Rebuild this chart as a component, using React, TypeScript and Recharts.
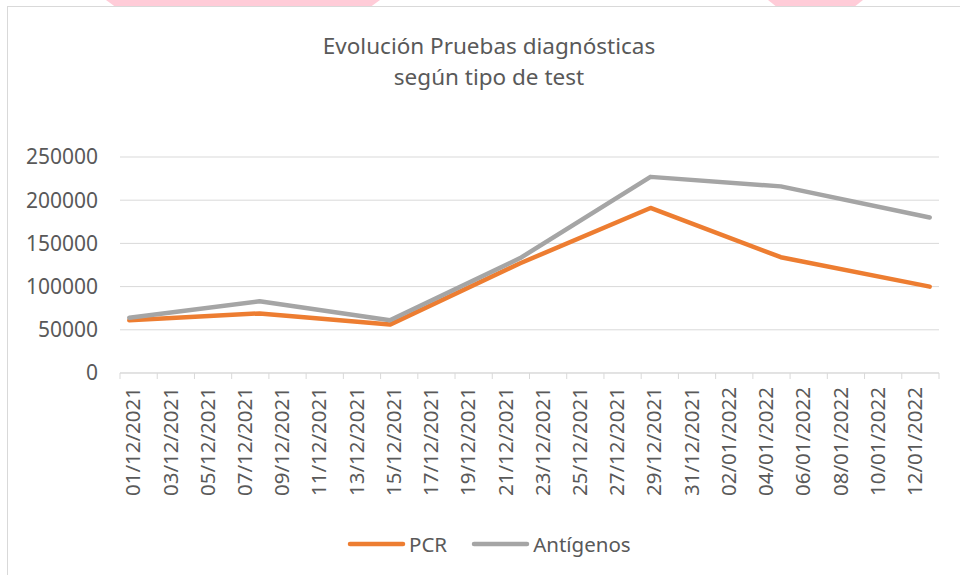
import React from "react";
import { LineChart, Line, XAxis, YAxis, CartesianGrid } from "recharts";

// ---- data ----
const pointDates = ["01/12/2021", "08/12/2021", "15/12/2021", "22/12/2021", "29/12/2021", "05/01/2022", "13/01/2022"];
const pcrValues = [61000, 69000, 56000, 127000, 191000, 134000, 100000];
const antigenosValues = [64000, 83000, 61000, 133000, 227000, 216000, 180000];
const tickLabels = [
  "01/12/2021", "03/12/2021", "05/12/2021", "07/12/2021", "09/12/2021", "11/12/2021",
  "13/12/2021", "15/12/2021", "17/12/2021", "19/12/2021", "21/12/2021", "23/12/2021",
  "25/12/2021", "27/12/2021", "29/12/2021", "31/12/2021", "02/01/2022", "04/01/2022",
  "06/01/2022", "08/01/2022", "10/01/2022", "12/01/2022",
];
const yTicks = [0, 50000, 100000, 150000, 200000, 250000];
const seriesNames = ["PCR", "Antígenos"];

// ---- styling ----
const FONT = "'Noto Sans', 'DejaVu Sans', sans-serif";
const TEXT = "#595959";
const GRID = "#d9d9d9";
const ORANGE = "#ED7D31";
const GRAY = "#A5A5A5";
const W = 960;
const H = 575;
const MARGIN = { top: 157, right: 21, bottom: 72, left: 0 };
const Y_AXIS_W = 120;
const X_AXIS_H = 130;

const parseDay = (s: string) => {
  const [d, m, y] = s.split("/").map(Number);
  return Date.UTC(y, m - 1, d) / 86400000;
};
const startDay = parseDay(tickLabels[0]);
const axisDays = tickLabels.length * 2; // slots on the date axis
const slotPx = (W - MARGIN.left - Y_AXIS_W - MARGIN.right) / axisDays;

const data = pointDates.map((d, i) => ({
  x: parseDay(d) - startDay + 0.5,
  pcr: pcrValues[i],
  ant: antigenosValues[i],
}));
const xTicks = Array.from({ length: tickLabels.length + 1 }, (_, i) => i * 2);

const XTick = (props: any) => {
  const { x, y, payload } = props;
  const idx = Math.round(payload.value / 2);
  const label = tickLabels[idx];
  const lx = x + slotPx / 2 + 3;
  const ly = y + 14;
  return (
    <g>
      <line x1={x} y1={y} x2={x} y2={y + 6} stroke={GRID} strokeWidth={1} />
      {label && (
        <text
          x={lx}
          y={ly}
          transform={`rotate(-90 ${lx} ${ly})`}
          textAnchor="end"
          dominantBaseline="central"
          fontSize={20.5}
          fontFamily={FONT}
          fill={TEXT}
        >
          {label}
        </text>
      )}
    </g>
  );
};

const Swatch = ({ color }: { color: string }) => (
  <svg width={59} height={10} style={{ display: "block" }}>
    <line x1={3} y1={5} x2={56} y2={5} stroke={color} strokeWidth={4.5} strokeLinecap="round" />
  </svg>
);

export default function App() {
  return (
    <div
      style={{
        position: "absolute",
        left: 0,
        top: 0,
        width: W,
        height: H,
        overflow: "hidden",
        background: "#fff",
        fontFamily: FONT,
      }}
    >
      {/* decorative pink shapes at top edge */}
      <div
        style={{
          position: "absolute",
          left: 106,
          top: 0,
          width: 274,
          height: 6,
          background: "#FFCCD8",
          clipPath: "polygon(0 0, 100% 0, 97% 100%, 3% 100%)",
        }}
      />
      <div
        style={{
          position: "absolute",
          left: 768,
          top: 0,
          width: 95,
          height: 6,
          background: "#FFCCD8",
          clipPath: "polygon(0 0, 100% 0, 92% 100%, 8% 100%)",
        }}
      />
      {/* chart border */}
      <div
        style={{
          position: "absolute",
          left: 7,
          top: 6,
          width: 1000,
          height: 620,
          border: `1px solid ${GRID}`,
        }}
      />
      {/* title */}
      <div
        style={{
          position: "absolute",
          left: 0,
          top: 30,
          width: 978,
          textAlign: "center",
          fontSize: 22.5,
          lineHeight: "31px",
          color: TEXT,
        }}
      >
        <div>Evolución Pruebas diagnósticas</div>
        <div>según tipo de test</div>
      </div>
      <div style={{ position: "absolute", left: 0, top: 0 }}>
        <LineChart width={W} height={H} data={data} margin={MARGIN}>
          <CartesianGrid horizontal vertical={false} stroke={GRID} strokeWidth={1} />
          <XAxis
            dataKey="x"
            type="number"
            domain={[0, axisDays]}
            ticks={xTicks}
            interval={0}
            height={X_AXIS_H}
            axisLine={{ stroke: GRID }}
            tickLine={false}
            tickSize={0}
            tickMargin={0}
            tick={<XTick />}
          />
          <YAxis
            width={Y_AXIS_W}
            domain={[0, 250000]}
            ticks={yTicks}
            axisLine={false}
            tickLine={false}
            tickSize={0}
            tickMargin={22}
            tick={{ fontSize: 21, fill: TEXT, fontFamily: FONT }}
          />
          <Line
            type="linear"
            dataKey="pcr"
            name={seriesNames[0]}
            stroke={ORANGE}
            strokeWidth={4.5}
            strokeLinecap="round"
            strokeLinejoin="round"
            dot={false}
            isAnimationActive={false}
          />
          <Line
            type="linear"
            dataKey="ant"
            name={seriesNames[1]}
            stroke={GRAY}
            strokeWidth={4.5}
            strokeLinecap="round"
            strokeLinejoin="round"
            dot={false}
            isAnimationActive={false}
          />
        </LineChart>
      </div>
      {/* legend */}
      <div
        style={{
          position: "absolute",
          left: 347,
          top: 531,
          display: "flex",
          alignItems: "center",
          fontSize: 20.5,
          color: TEXT,
          lineHeight: "26px",
        }}
      >
        <Swatch color={ORANGE} />
        <span style={{ marginLeft: 3 }}>{seriesNames[0]}</span>
        <span style={{ width: 24 }} />
        <Swatch color={GRAY} />
        <span style={{ marginLeft: 3 }}>{seriesNames[1]}</span>
      </div>
    </div>
  );
}
